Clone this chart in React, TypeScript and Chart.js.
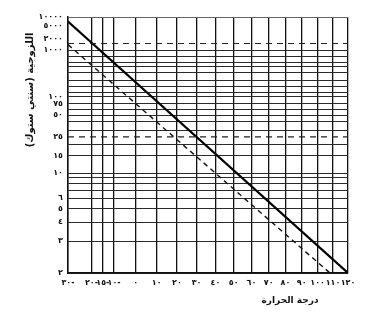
import React, { useEffect, useRef } from 'react';
import { Chart, registerables } from 'chart.js';

Chart.register(...registerables);

// Temperature ticks (°C) on the x axis (ASTM style: log of absolute temperature)
const tempTicks = [-30, -20, -15, -10, 0, 10, 20, 30, 40, 50, 60, 70, 80, 90, 100, 110, 120];
// Viscosity grid values (cSt) on the y axis (ASTM style: log log (v + 0.7))
const viscGrid = [2, 3, 4, 5, 6, 7, 8, 9, 10, 15, 20, 25, 30, 40, 50, 60, 75, 100, 120, 150, 200, 300, 400, 500, 700, 1000, 1500, 2000, 5000, 10000];
const viscLabeled = [2, 3, 4, 5, 6, 10, 15, 25, 50, 75, 100, 1000, 2000, 5000, 10000];
const viscDashed = [25, 1500];
const viscLabelOnly = [2000, 5000];

// Oil lines (temperature °C, viscosity cSt)
const solidLineT = [-30, 120];
const solidLineV = [7000, 2];
const dashedLineT = [-30, 108];
const dashedLineV = [1400, 2];

const xTitle = 'درجة الحرارة';
const yTitle = 'اللزوجية (سنتي ستوك)';

const tx = (t: number) => Math.log10(t + 273.15);
const vy = (v: number) => Math.log10(Math.log10(v + 0.7));

const AR = '٠١٢٣٤٥٦٧٨٩';
const toAr = (n: number) => String(n).replace(/[0-9]/g, (d) => AR[Number(d)]);
const tempLabel = (t: number) => (t < 0 ? toAr(-t) + '-' : toAr(t));

const FONT = '"DejaVu Sans"';

const titlePlugin = {
  id: 'arabicTitles',
  afterDraw(chart: any) {
    const { ctx, chartArea } = chart;
    ctx.save();
    ctx.fillStyle = '#111';
    ctx.textAlign = 'center';
    ctx.textBaseline = 'middle';
    ctx.font = `bold 9px ${FONT}`;
    ctx.fillText(xTitle, chartArea.right - 58, chartArea.bottom + 28);
    ctx.translate(chartArea.left - 38, chartArea.top + 73);
    ctx.rotate(-Math.PI / 2);
    ctx.font = `bold 10px ${FONT}`;
    ctx.fillText(yTitle, 0, 0);
    ctx.restore();
  },
};

export default function App() {
  const ref = useRef<HTMLCanvasElement | null>(null);

  useEffect(() => {
    if (!ref.current) return;
    const xMin = tx(tempTicks[0]);
    const xMax = tx(tempTicks[tempTicks.length - 1]);

    const dashedGrid = viscDashed.map((v) => ({
      data: [
        { x: xMin, y: vy(v) },
        { x: xMax, y: vy(v) },
      ],
      borderColor: '#222',
      borderWidth: 1.2,
      borderDash: [6, 5],
      pointRadius: 0,
    }));

    const chart = new Chart(ref.current, {
      type: 'line',
      data: {
        datasets: [
          ...dashedGrid,
          {
            data: solidLineT.map((t, i) => ({ x: tx(t), y: vy(solidLineV[i]) })),
            borderColor: '#000',
            borderWidth: 2.2,
            pointRadius: 0,
          },
          {
            data: dashedLineT.map((t, i) => ({ x: tx(t), y: vy(dashedLineV[i]) })),
            borderColor: '#111',
            borderWidth: 1.4,
            borderDash: [5, 4],
            pointRadius: 0,
          },
        ],
      },
      options: {
        animation: false,
        responsive: false,
        layout: { padding: { left: 0, top: 17, right: 23, bottom: 0 } },
        plugins: { legend: { display: false }, tooltip: { enabled: false } },
        scales: {
          x: {
            type: 'linear',
            min: xMin,
            max: xMax,
            afterBuildTicks: (s: any) => {
              s.ticks = tempTicks.map((t) => ({ value: tx(t) }));
            },
            afterFit: (s: any) => {
              s.height = 45;
            },
            ticks: {
              autoSkip: false,
              maxRotation: 0,
              minRotation: 0,
              padding: 5,
              color: '#111',
              font: { family: FONT, size: 8, weight: 'bold' },
              callback: (_v: any, i: number) => tempLabel(tempTicks[i]),
            },
            grid: { color: '#111', lineWidth: 1.3, drawTicks: false },
            border: { color: '#111', width: 1.5 },
          },
          y: {
            type: 'linear',
            min: vy(viscGrid[0]),
            max: vy(viscGrid[viscGrid.length - 1]),
            afterBuildTicks: (s: any) => {
              s.ticks = viscGrid.map((v) => ({ value: vy(v) }));
            },
            afterFit: (s: any) => {
              s.width = 68;
            },
            ticks: {
              autoSkip: false,
              padding: 5,
              color: '#111',
              font: { family: FONT, size: 8, weight: 'bold' },
              callback: (_v: any, i: number) =>
                viscLabeled.includes(viscGrid[i]) ? toAr(viscGrid[i]) : '',
            },
            grid: {
              drawTicks: false,
              lineWidth: 1,
              color: (c: any) => {
                const v = viscGrid[c.index];
                if (viscDashed.includes(v) || viscLabelOnly.includes(v)) return 'rgba(0,0,0,0)';
                if (v === 10000) return '#666';
                return '#2a2a2a';
              },
            },
            border: { color: '#111', width: 1.5 },
          },
        },
      },
      plugins: [titlePlugin],
    } as any);

    return () => chart.destroy();
  }, []);

  return (
    <div style={{ position: 'fixed', left: 0, top: 0, width: 371, height: 318, background: '#fff' }}>
      <canvas ref={ref} width={371} height={318} />
    </div>
  );
}
